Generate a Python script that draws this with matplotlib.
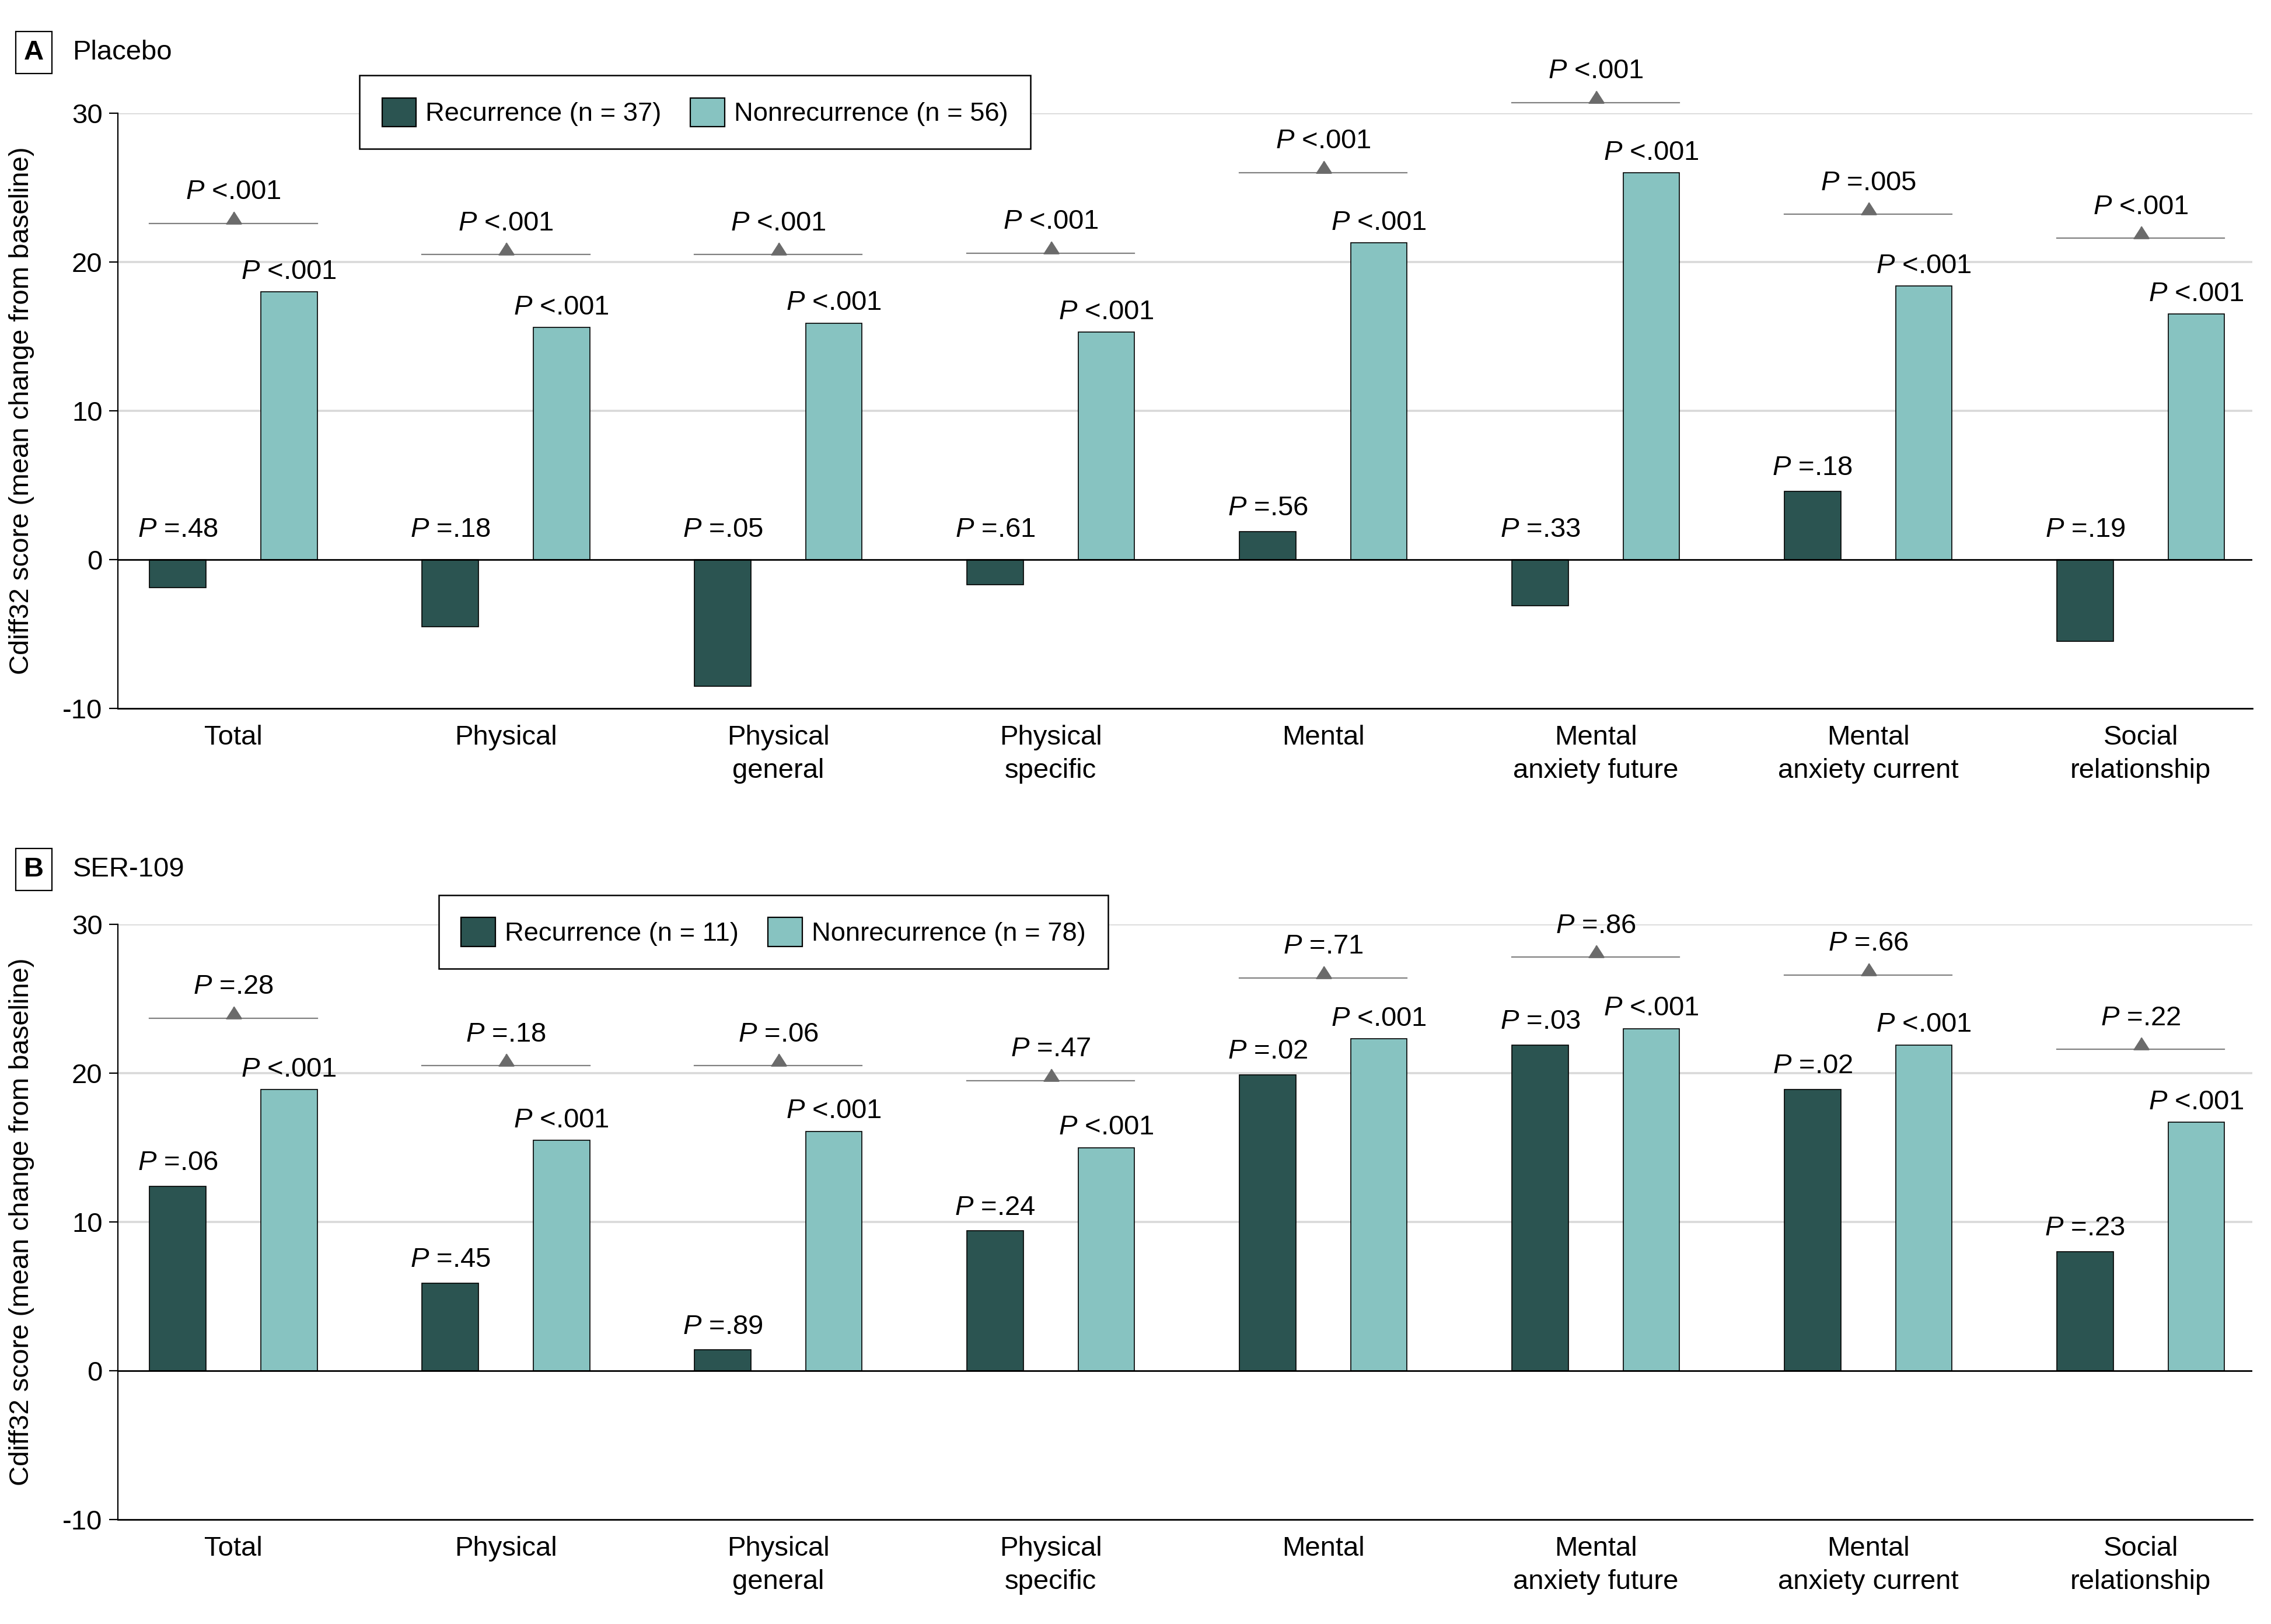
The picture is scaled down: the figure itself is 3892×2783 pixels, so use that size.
import matplotlib
matplotlib.use("Agg")
import matplotlib.pyplot as plt
import numpy as np
from matplotlib import font_manager
from matplotlib.patches import Patch

names = {f.name for f in font_manager.fontManager.ttflist}
FONT = "Liberation Sans Narrow" if "Liberation Sans Narrow" in names else "Liberation Sans"
plt.rcParams["font.family"] = [FONT, "DejaVu Sans"]
plt.rcParams["mathtext.fontset"] = "custom"
plt.rcParams["mathtext.rm"] = FONT
plt.rcParams["mathtext.it"] = FONT + ":italic"
plt.rcParams["axes.unicode_minus"] = False

categories = ["Total", "Physical", "Physical\ngeneral", "Physical\nspecific", "Mental",
              "Mental\nanxiety future", "Mental\nanxiety current", "Social\nrelationship"]

# Panel A: placebo
a_rec = [-1.9, -4.5, -8.5, -1.7, 1.9, -3.1, 4.6, -5.5]
a_non = [18.0, 15.6, 15.9, 15.3, 21.3, 26.0, 18.4, 16.5]
a_cmp = [22.6, 20.5, 20.5, 20.6, 26.0, 30.7, 23.2, 21.6]
a_rec_p = ["=.48", "=.18", "=.05", "=.61", "=.56", "=.33", "=.18", "=.19"]
a_non_p = ["<.001"] * 8
a_cmp_p = ["<.001", "<.001", "<.001", "<.001", "<.001", "<.001", "=.005", "<.001"]

# Panel B: SER-109
b_rec = [12.4, 5.9, 1.4, 9.4, 19.9, 21.9, 18.9, 8.0]
b_non = [18.9, 15.5, 16.1, 15.0, 22.3, 23.0, 21.9, 16.7]
b_cmp = [23.7, 20.5, 20.5, 19.5, 26.4, 27.8, 26.6, 21.6]
b_rec_p = ["=.06", "=.45", "=.89", "=.24", "=.02", "=.03", "=.02", "=.23"]
b_non_p = ["<.001"] * 8
b_cmp_p = ["=.28", "=.18", "=.06", "=.47", "=.71", "=.86", "=.66", "=.22"]

REC_COLOR = "#2b5451"
NON_COLOR = "#87c3c1"
FS = 17
W = 0.207
OFF = 0.204

tri = [(-1, 0), (1, 0), (0, 1.56)]


def plabel(s):
    return r"$\mathit{P}$ " + s


def draw_panel(ax, rec, non, cmp_y, rec_p, non_p, cmp_p):
    x = np.arange(len(categories))
    ax.set_xlim(-0.424, 7.41)
    ax.set_ylim(-10, 30)
    ax.set_yticks([-10, 0, 10, 20, 30])
    for g in [10, 20, 30]:
        ax.axhline(g, color="#d9d9d9", lw=1.3, zorder=0)
    ax.bar(x - OFF, rec, W, color=REC_COLOR, edgecolor="black", lw=0.6, zorder=2)
    ax.bar(x + OFF, non, W, color=NON_COLOR, edgecolor="black", lw=0.6, zorder=2)
    ax.axhline(0, color="black", lw=1.0, zorder=3)
    for i in range(len(categories)):
        top = max(rec[i], 0)
        off = 10 if rec[i] > 0 else 14
        ax.annotate(plabel(rec_p[i]), (x[i] - OFF, top), xytext=(0, off),
                    textcoords="offset points", ha="center", va="baseline", fontsize=FS)
        ax.annotate(plabel(non_p[i]), (x[i] + OFF, non[i]), xytext=(0, 8),
                    textcoords="offset points", ha="center", va="baseline", fontsize=FS)
        x0 = x[i] - OFF - W / 2
        x1 = x[i] + OFF + W / 2
        ax.plot([x0, x1], [cmp_y[i], cmp_y[i]], color="#808080", lw=0.8, zorder=3,
                clip_on=False)
        ax.plot([x[i]], [cmp_y[i]], marker=tri, markersize=14.5, color="#6b6b6b",
                lw=0, zorder=4, clip_on=False)
        ax.annotate(plabel(cmp_p[i]), (x[i], cmp_y[i]), xytext=(0, 15),
                    textcoords="offset points", ha="center", va="baseline", fontsize=FS,
                    annotation_clip=False)
    ax.set_xticks(x)
    ax.set_xticklabels(categories, fontsize=FS, linespacing=1.4)
    ax.tick_params(axis="x", length=0, pad=10)
    ax.tick_params(axis="y", length=5.5, width=0.8, pad=4, labelsize=FS)
    for s in ["top", "right"]:
        ax.spines[s].set_visible(False)
    ax.spines["left"].set_linewidth(0.8)
    ax.spines["bottom"].set_linewidth(1.0)
    ax.set_ylabel("Cdiff32 score (mean change from baseline)", fontsize=FS)
    ax.yaxis.set_label_coords(-0.039, 0.5)


fig = plt.figure(figsize=(19.46, 13.915), dpi=200)
ax_a = fig.add_axes([0.0519, 0.5638, 0.9399, 0.3665])
ax_b = fig.add_axes([0.0519, 0.0643, 0.9399, 0.3665])

draw_panel(ax_a, a_rec, a_non, a_cmp, a_rec_p, a_non_p, a_cmp_p)
draw_panel(ax_b, b_rec, b_non, b_cmp, b_rec_p, b_non_p, b_cmp_p)

box = dict(boxstyle="square,pad=0.3", fc="white", ec="black", lw=0.8)
fig.text(0.0149, 0.9677, "A", fontsize=FS, fontweight="bold", ha="center", va="center", bbox=box)
fig.text(0.032, 0.9677, "Placebo", fontsize=FS, ha="left", va="center")
fig.text(0.0149, 0.4645, "B", fontsize=FS, fontweight="bold", ha="center", va="center", bbox=box)
fig.text(0.032, 0.4645, "SER-109", fontsize=FS, ha="left", va="center")

for n_rec, n_non, anchor in [(37, 56, (0.1583, 0.9536)), (11, 78, (0.1932, 0.4488))]:
    handles = [Patch(facecolor=REC_COLOR, edgecolor="black", lw=0.8),
               Patch(facecolor=NON_COLOR, edgecolor="black", lw=0.8)]
    labels = [f"Recurrence (n = {n_rec})", f"Nonrecurrence (n = {n_non})"]
    leg = fig.legend(handles, labels, loc="upper left", bbox_to_anchor=anchor, ncol=2,
                     fontsize=16.3, frameon=True, fancybox=False, framealpha=1,
                     edgecolor="black", handlelength=1.3, handleheight=1.3,
                     handletextpad=0.35, columnspacing=1.1, borderpad=0.85,
                     borderaxespad=0)
    leg.get_frame().set_linewidth(0.9)

fig.savefig("out.png", dpi=200)
